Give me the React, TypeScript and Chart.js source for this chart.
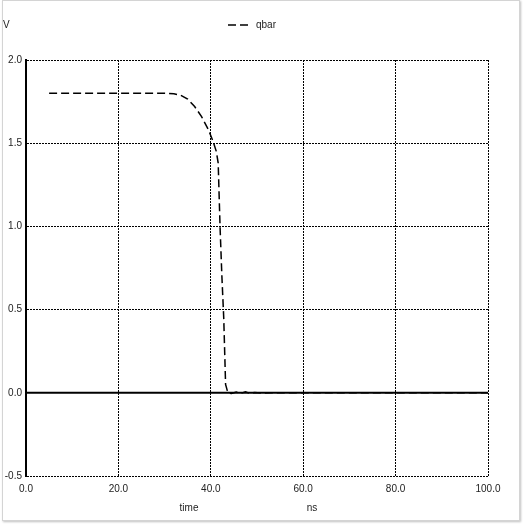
import React, { useEffect, useRef } from "react";
import { Chart, registerables } from "chart.js";

Chart.register(...registerables);

const seriesName = "qbar";
const time = [5, 10, 20, 30, 32, 33.5, 35, 36.5, 38, 39.5, 40.5, 41.2, 41.6, 42.0, 42.4, 42.8, 43.2, 43.7, 44.5, 45.5, 46.5, 47.5, 48.5, 49.5, 51, 53, 55, 60, 70, 80, 90, 100];
const qbar = [1.8, 1.8, 1.8, 1.8, 1.797, 1.788, 1.765, 1.72, 1.66, 1.58, 1.51, 1.45, 1.38, 1.0, 0.7, 0.45, 0.05, 0.0, -0.004, 0.004, -0.003, 0.006, -0.004, 0.002, -0.002, 0.001, 0, 0, 0, 0, 0, 0];
const xTicks = { min: 0, max: 100, step: 20 };
const yTicks = { min: -0.5, max: 2.0, step: 0.5 };
const yLabel = "V";
const xLabel = "time";
const xUnit = "ns";

const FONT = "10px 'Liberation Sans', Arial, sans-serif";
const TEXT = "#222";

const decorPlugin = {
  id: "decor",
  beforeDatasetsDraw(chart: any) {
    const { ctx, chartArea, scales } = chart;
    const y0 = scales.y.getPixelForValue(0);
    ctx.save();
    ctx.strokeStyle = "#000";
    ctx.lineWidth = 2;
    ctx.setLineDash([]);
    ctx.beginPath();
    ctx.moveTo(chartArea.left, y0);
    ctx.lineTo(chartArea.right, y0);
    ctx.stroke();
    ctx.restore();
  },
  afterDraw(chart: any) {
    const { ctx } = chart;
    ctx.save();
    ctx.font = FONT;
    ctx.fillStyle = TEXT;
    ctx.textBaseline = "middle";
    ctx.textAlign = "left";
    ctx.fillText(yLabel, 3, 25);
    ctx.textAlign = "center";
    ctx.fillText(xLabel, 189, 508);
    ctx.fillText(xUnit, 312, 508);
    // legend
    ctx.strokeStyle = "#000";
    ctx.lineWidth = 1.5;
    ctx.setLineDash([8, 4]);
    ctx.beginPath();
    ctx.moveTo(228, 25);
    ctx.lineTo(249, 25);
    ctx.stroke();
    ctx.setLineDash([]);
    ctx.textAlign = "left";
    ctx.fillText(seriesName, 256, 25);
    ctx.restore();
  },
};

export default function App() {
  const ref = useRef<HTMLCanvasElement>(null);
  useEffect(() => {
    const canvas = ref.current!;
    const chart = new Chart(canvas, {
      type: "line",
      data: {
        datasets: [
          {
            label: seriesName,
            data: time.map((t, i) => ({ x: t, y: qbar[i] })),
            borderColor: "#000",
            borderWidth: 1.5,
            borderDash: [8, 4],
            pointRadius: 0,
            tension: 0,
            fill: false,
          },
        ],
      },
      options: {
        responsive: false,
        animation: false,
        layout: { padding: { top: 60, left: 0, right: 37, bottom: 0 } },
        plugins: { legend: { display: false }, tooltip: { enabled: false } },
        scales: {
          x: {
            type: "linear",
            min: xTicks.min,
            max: xTicks.max,
            afterFit: (s: any) => { s.height = 50; },
            ticks: {
              stepSize: xTicks.step,
              padding: 7,
              color: TEXT,
              font: { family: "'Liberation Sans', Arial, sans-serif", size: 10 },
              callback: (v: any) => Number(v).toFixed(1),
              maxRotation: 0,
            },
            grid: { color: "#000", lineWidth: 1, drawTicks: false },
            border: { display: false, dash: [2, 1] },
          },
          y: {
            type: "linear",
            min: yTicks.min,
            max: yTicks.max,
            afterFit: (s: any) => { s.width = 26; },
            ticks: {
              stepSize: yTicks.step,
              padding: 4,
              color: TEXT,
              font: { family: "'Liberation Sans', Arial, sans-serif", size: 10 },
              callback: (v: any) => Number(v).toFixed(1),
            },
            grid: { color: "#000", lineWidth: 1, drawTicks: false },
            border: { display: true, color: "#000", width: 2, dash: [2, 1] },
          },
        },
      },
      plugins: [decorPlugin],
    } as any);
    return () => chart.destroy();
  }, []);

  return (
    <div style={{ position: "fixed", left: 0, top: 0, width: 525, height: 526, background: "#fff" }}>
      <div
        style={{
          position: "absolute",
          left: 2,
          top: 0,
          width: 518,
          height: 521,
          border: "1px solid #d4d4d4",
          boxShadow: "1px 1px 2px rgba(0,0,0,0.25)",
          boxSizing: "border-box",
        }}
      />
      <canvas ref={ref} width={525} height={526} style={{ position: "absolute", left: 0, top: 0 }} />
    </div>
  );
}
